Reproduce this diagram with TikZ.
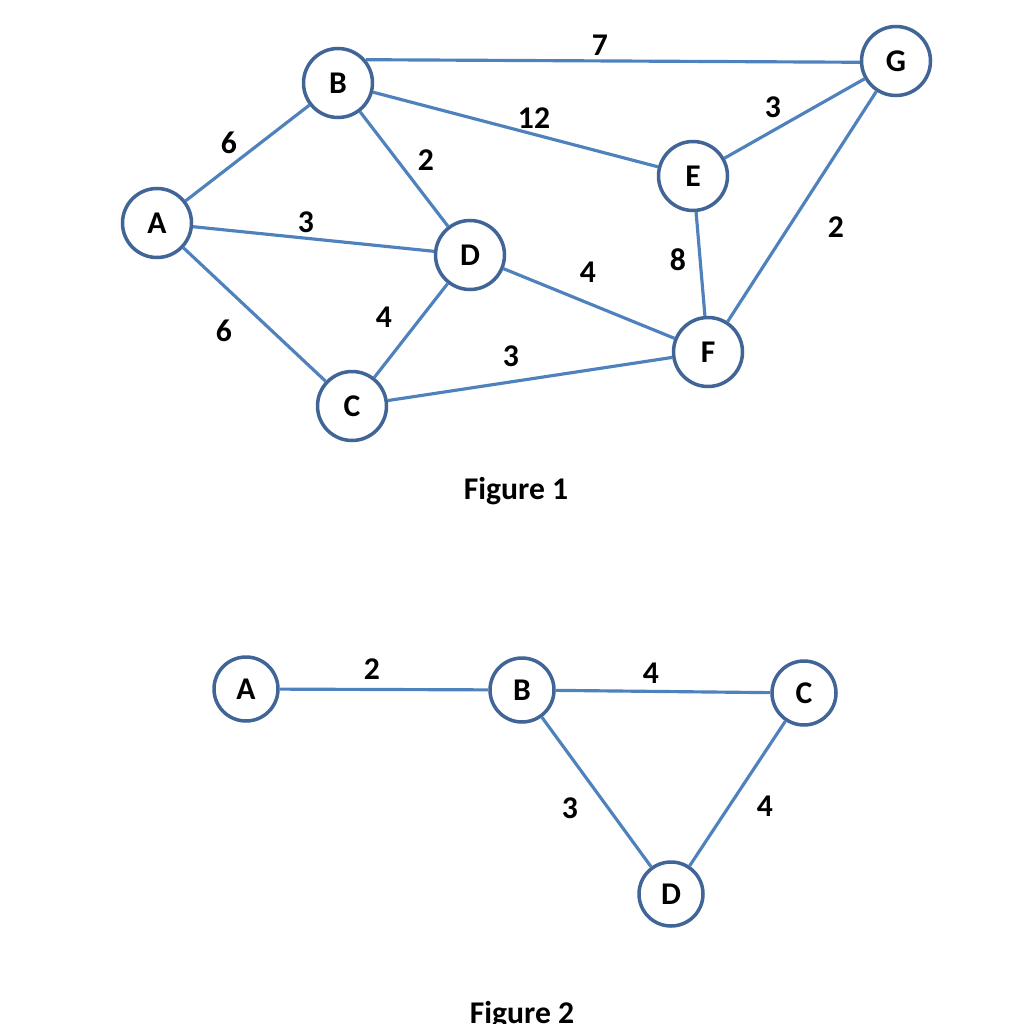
\documentclass[tikz,border=0pt]{standalone}
\usepackage{fontspec}
\setmainfont{Carlito}
\definecolor{ringblue}{RGB}{65,101,150}
\definecolor{edgeblue}{RGB}{79,129,189}
\tikzset{
  vtx/.style={circle, draw=ringblue, line width=2pt, fill=white, minimum size=1.38cm, inner sep=0pt, font=\fontsize{18}{21}\selectfont\bfseries},
  svtx/.style={vtx, minimum size=1.28cm},
  wt/.style={font=\fontsize{18}{21}\selectfont\bfseries},
  figcap/.style={font=\fontsize{18}{21}\selectfont\bfseries},
  edge/.style={draw=edgeblue, line width=1.8pt}
}
\begin{document}
\begin{tikzpicture}[x=0.02cm,y=-0.02cm]
\useasboundingbox (0,0) rectangle (1019,1024);
% Figure 1
\node [vtx] (A) at (157,223) {A};
\node [vtx] (B) at (338,83) {B};
\node [vtx] (C) at (352,406) {C};
\node [vtx] (D) at (470,255) {D};
\node [vtx] (E) at (693,176) {E};
\node [vtx] (F) at (708,352) {F};
\node [vtx] (G) at (896,61) {G};
\draw [edge] (A) -- (B);
\draw [edge] (A) -- (D);
\draw [edge] (A) -- (C);
\draw [edge] (B.40) -- (G.182);
\draw [edge] (B) -- (E);
\draw [edge] (B) -- (D);
\draw [edge] (C) -- (D);
\draw [edge] (C) -- (F);
\draw [edge] (D) -- (F);
\draw [edge] (E) -- (G);
\draw [edge] (E) -- (F);
\draw [edge] (F) -- (G);
\node [wt] at (229,143) {6};
\node [wt] at (306,222) {3};
\node [wt] at (224,331) {6};
\node [wt] at (600,45) {7};
\node [wt] at (534,118) {12};
\node [wt] at (426,160) {2};
\node [wt] at (384,317) {4};
\node [wt] at (511,356) {3};
\node [wt] at (588,272) {4};
\node [wt] at (773,107) {3};
\node [wt] at (678,260) {8};
\node [wt] at (836,227) {2};
\node [figcap] (cap1) at (516,491) {Figure 1};
% Figure 2
\node [svtx] (a) at (246,689) {A};
\node [svtx] (b) at (522,690) {B};
\node [svtx] (c) at (804,693) {C};
\node [svtx] (d) at (671,894) {D};
\draw [edge] (a) -- (b);
\draw [edge] (b) -- (c);
\draw [edge] (b) -- (d);
\draw [edge] (c) -- (d);
\node [wt] at (372,669) {2};
\node [wt] at (651,673) {4};
\node [wt] at (570,808) {3};
\node [wt] at (765,806) {4};
\node [figcap] (cap2) at (522,1015) {Figure 2};
\end{tikzpicture}
\end{document}
